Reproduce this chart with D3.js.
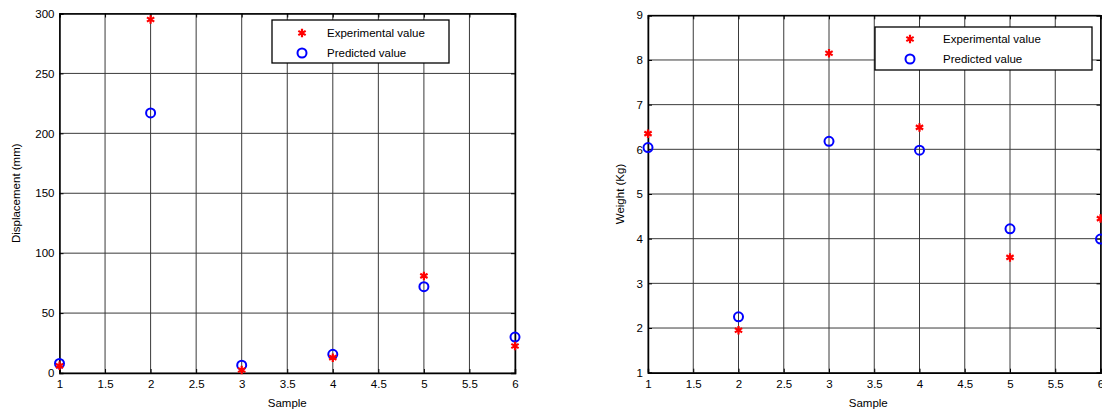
<!DOCTYPE html>
<html><head><meta charset="utf-8">
<script src="https://cdn.jsdelivr.net/npm/d3@7"></script>
<style>
body{margin:0;background:#fff;overflow:hidden}
svg{display:block;font-family:"Liberation Sans",Arial,sans-serif}
</style></head>
<body><svg id="c" width="1102" height="412"></svg>
<script>
const samples = [1,2,3,4,5,6];
const dispExperimental = [6, 295, 2.5, 12.8, 81, 22.5];
const dispPredicted = [8, 217, 6.5, 15.6, 72, 30];
const weightExperimental = [6.35, 1.95, 8.15, 6.49, 3.58, 4.45];
const weightPredicted = [6.04, 2.25, 6.18, 5.98, 4.22, 3.99];
const xTicks = [1,1.5,2,2.5,3,3.5,4,4.5,5,5.5,6];
const dispTicks = [0,50,100,150,200,250,300];
const weightTicks = [1,2,3,4,5,6,7,8,9];
const legendLabels = ["Experimental value","Predicted value"];

const svg = d3.select("#c");

function panel(o){
  const x = d3.scaleLinear().domain([1,6]).range([o.x0,o.x1]);
  const y = d3.scaleLinear().domain(o.ydom).range([o.y1,o.y0]);
  const g = svg.append("g");
  // grid
  g.selectAll(".gx").data(xTicks).join("line")
    .attr("x1",d=>x(d)).attr("x2",d=>x(d)).attr("y1",o.y0).attr("y2",o.y1)
    .attr("stroke","#3a3a3a").attr("stroke-width",1);
  g.selectAll(".gy").data(o.yticks).join("line")
    .attr("y1",d=>y(d)).attr("y2",d=>y(d)).attr("x1",o.x0).attr("x2",o.x1)
    .attr("stroke","#3a3a3a").attr("stroke-width",1);
  // axes
  const ax = g.append("g").attr("transform",`translate(0,${o.y1})`)
    .call(d3.axisBottom(x).tickValues(xTicks).tickSize(-4).tickPadding(7).tickFormat(d3.format("~g")));
  const axt = g.append("g").attr("transform",`translate(0,${o.y0})`)
    .call(d3.axisTop(x).tickValues(xTicks).tickSize(-4).tickFormat(""));
  const ay = g.append("g").attr("transform",`translate(${o.x0},0)`)
    .call(d3.axisLeft(y).tickValues(o.yticks).tickSize(-4).tickPadding(5));
  const ayr = g.append("g").attr("transform",`translate(${o.x1},0)`)
    .call(d3.axisRight(y).tickValues(o.yticks).tickSize(-4).tickFormat(""));
  [ax,axt,ay,ayr].forEach(a=>{
    a.select(".domain").attr("stroke","#000").attr("stroke-width",1.5);
    a.selectAll(".tick line").attr("stroke","#000");
    a.selectAll("text").attr("font-size",11.5).attr("fill","#000").attr("font-family","Liberation Sans, Arial, sans-serif");
  });
  // labels
  g.append("text").attr("x",(o.x0+o.x1)/2 + (o.xlabOff||0)).attr("y",407).attr("text-anchor","middle")
    .attr("font-size",11.5).text("Sample");
  g.append("text").attr("transform",`translate(${o.ylabX},${(o.y0+o.y1)/2}) rotate(-90)`)
    .attr("text-anchor","middle").attr("font-size",11.5).text(o.ylab);
  // data
  const star = d3.symbol().type(d3.symbolAsterisk).size(50);
  g.selectAll(".pr").data(samples).join("circle")
    .attr("cx",d=>x(d)).attr("cy",(d,i)=>y(o.pred[i])).attr("r",4.5)
    .attr("fill","none").attr("stroke","#0000ff").attr("stroke-width",2);
  g.selectAll(".ex").data(samples).join("path")
    .attr("d",star).attr("transform",(d,i)=>`translate(${x(d)},${y(o.exp[i])})`)
    .attr("stroke","#ff0000").attr("stroke-width",2.2).attr("fill","none");
  // legend
  const L = o.leg;
  const lg = g.append("g");
  lg.append("rect").attr("x",L.x).attr("y",L.y).attr("width",L.w).attr("height",L.h)
    .attr("fill","#fff").attr("stroke","#000").attr("stroke-width",1.3);
  lg.append("path").attr("d",star).attr("transform",`translate(${L.mx},${L.y+L.r1})`)
    .attr("stroke","#ff0000").attr("stroke-width",2.2);
  lg.append("circle").attr("cx",L.mx).attr("cy",L.y+L.r2).attr("r",4.5)
    .attr("fill","none").attr("stroke","#0000ff").attr("stroke-width",2);
  legendLabels.forEach((t,i)=>{
    lg.append("text").attr("x",L.tx).attr("y",L.y+(i?L.r2:L.r1)+4).attr("font-size",11.5).text(t);
  });
}

panel({x0:59.5,x1:515,y0:13.5,y1:373,ydom:[0,300],yticks:dispTicks,
  exp:dispExperimental,pred:dispPredicted,ylab:"Displacement (mm)",ylabX:20,
  leg:{x:272,y:20,w:177,h:43,mx:302,tx:327,r1:13,r2:33}});
panel({x0:648,x1:1100.5,y0:15.3,y1:372.7,ydom:[1,9],yticks:weightTicks,
  exp:weightExperimental,pred:weightPredicted,ylab:"Weight (Kg)",ylabX:624,xlabOff:-6,
  leg:{x:875,y:27,w:217,h:43,mx:910,tx:943,r1:12,r2:32}});
</script></body></html>
